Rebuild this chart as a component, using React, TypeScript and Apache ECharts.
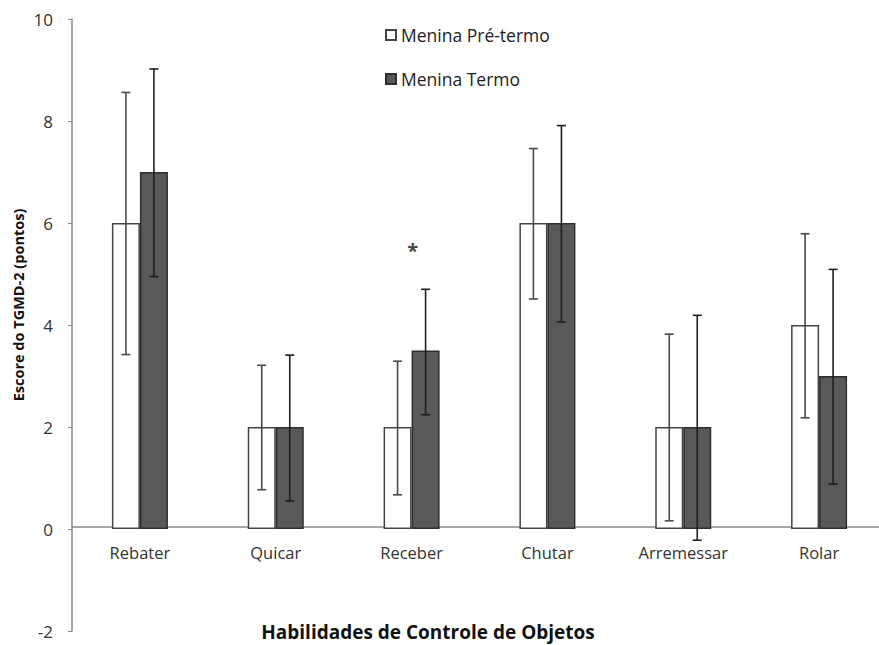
import React, { useEffect, useRef } from "react";
import * as echarts from "echarts";

const categories = ["Rebater", "Quicar", "Receber", "Chutar", "Arremessar", "Rolar"];
const seriesNames = ["Menina Pré-termo", "Menina Termo"];
const preValues = [6, 2, 2, 6, 2, 4];
const termValues = [7, 2, 3.5, 6, 2, 3];
const preHigh = [8.56, 3.21, 3.29, 7.46, 3.82, 5.79];
const preLow = [3.42, 0.77, 0.67, 4.51, 0.16, 2.18];
const termHigh = [9.02, 3.41, 4.7, 7.91, 4.19, 5.09];
const termLow = [4.95, 0.55, 2.24, 4.06, -0.22, 0.88];
const yTicks = { min: -2, max: 10, interval: 2 };
const starCategory = "Receber";
const starValue = 5.5;

const FONT = "Open Sans";
const BAR_W = 28;

function errorSeries(name: string, low: number[], high: number[], offset: number, color: string) {
  return {
    type: "custom",
    name: name + " erro",
    z: 5,
    silent: true,
    data: categories.map((_, i) => [i, low[i], high[i]]),
    renderItem: (params: any, api: any) => {
      const i = api.value(0);
      const lo = api.coord([i, api.value(1)]);
      const hi = api.coord([i, api.value(2)]);
      const x = lo[0] + offset;
      const cap = 4.5;
      const style = { stroke: color, lineWidth: 1.6 };
      return {
        type: "group",
        children: [
          { type: "line", shape: { x1: x, y1: hi[1], x2: x, y2: lo[1] }, style },
          { type: "line", shape: { x1: x - cap, y1: hi[1], x2: x + cap, y2: hi[1] }, style },
          { type: "line", shape: { x1: x - cap, y1: lo[1], x2: x + cap, y2: lo[1] }, style },
        ],
      };
    },
  };
}

export default function App() {
  const ref = useRef<HTMLDivElement>(null);
  useEffect(() => {
    document.body.style.margin = "0";
    const chart = echarts.init(ref.current!, null, { renderer: "svg" });
    chart.setOption({
      animation: false,
      backgroundColor: "#ffffff",
      textStyle: { fontFamily: FONT },
      grid: {
        left: 72,
        top: 19,
        width: 815,
        height: 612,
        containLabel: false,
        outerBoundsMode: "none",
      },
      legend: {
        orient: "vertical",
        left: 380,
        top: 21,
        itemWidth: 10,
        itemHeight: 10,
        itemGap: 26,
        icon: "rect",
        textStyle: { fontFamily: FONT, fontSize: 17.5, color: "#222" },
        data: seriesNames,
      },
      xAxis: {
        type: "category",
        data: categories,
        offset: -104,
        axisLine: { onZero: false, lineStyle: { color: "#8a8a8a", width: 1.5 } },
        axisTick: { show: false },
        axisLabel: { fontFamily: FONT, fontSize: 16.5, color: "#333", margin: 17 },
      },
      yAxis: {
        type: "value",
        min: yTicks.min,
        max: yTicks.max,
        interval: yTicks.interval,
        splitLine: { show: false },
        axisLine: { show: true, lineStyle: { color: "#8a8a8a", width: 1.5 } },
        axisTick: { show: true, length: 4, lineStyle: { color: "#8a8a8a" } },
        axisLabel: { fontFamily: FONT, fontSize: 17, color: "#333", margin: 19 },
      },
      graphic: [
        {
          type: "text",
          x: 18,
          y: 305,
          rotation: Math.PI / 2,
          style: {
            text: "Escore do TGMD-2 (pontos)",
            fontFamily: FONT,
            fontSize: 14.5,
            fontWeight: "bold",
            fill: "#111",
            align: "center",
            verticalAlign: "middle",
          },
        },
        {
          type: "text",
          x: 428,
          y: 632,
          style: {
            text: "Habilidades de Controle de Objetos",
            fontFamily: FONT,
            fontSize: 19,
            fontWeight: "bold",
            fill: "#111",
            align: "center",
            verticalAlign: "middle",
          },
        },
      ],
      series: [
        {
          type: "bar",
          name: seriesNames[0],
          data: preValues,
          barWidth: BAR_W,
          barGap: "0%",
          itemStyle: { color: "#ffffff", borderColor: "#444", borderWidth: 1.5 },
        },
        {
          type: "bar",
          name: seriesNames[1],
          data: termValues,
          barWidth: BAR_W,
          barGap: "0%",
          itemStyle: { color: "#595959", borderColor: "#2e2e2e", borderWidth: 1.5 },
        },
        {
          type: "scatter",
          name: "significância",
          symbolSize: 0,
          silent: true,
          z: 6,
          data: [[starCategory, starValue]],
          label: {
            show: true,
            position: "inside",
            offset: [1, 2],
            formatter: "*",
            fontFamily: FONT,
            fontSize: 20,
            fontWeight: "bold",
            color: "#111",
          },
        },
        errorSeries(seriesNames[0], preLow, preHigh, -BAR_W / 2, "#4a4a4a"),
        errorSeries(seriesNames[1], termLow, termHigh, BAR_W / 2, "#1e1e1e"),
      ],
    });
    return () => chart.dispose();
  }, []);
  return <div ref={ref} style={{ width: 879, height: 645 }} />;
}
